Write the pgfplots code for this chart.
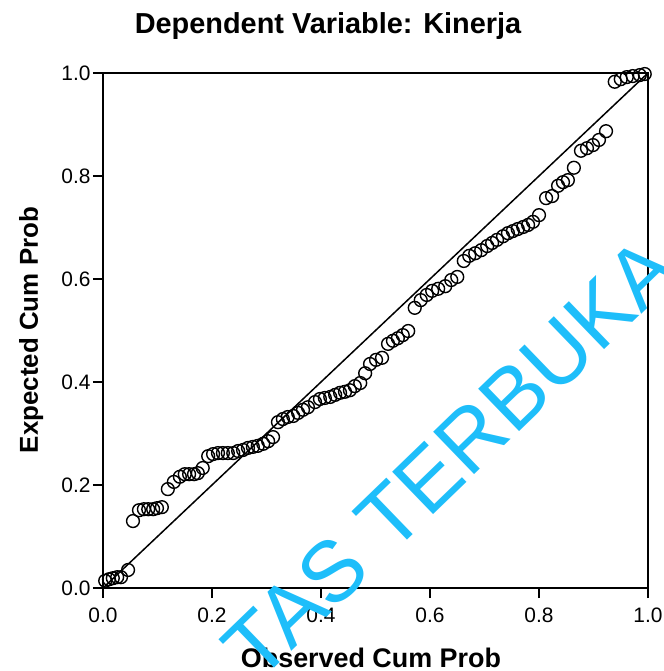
\documentclass[border=0pt]{standalone}
\usepackage{fontspec}
\setmainfont{Liberation Sans}
\usepackage{pgfplots}
\pgfplotsset{compat=1.18}
\definecolor{wm}{RGB}{30,190,250}
\pgfplotstableread{
x y
0.004 0.014
0.011 0.017
0.018 0.019
0.026 0.021
0.033 0.021
0.046 0.035
0.055 0.130
0.066 0.151
0.075 0.153
0.083 0.153
0.092 0.153
0.099 0.155
0.108 0.157
0.119 0.192
0.130 0.206
0.141 0.216
0.150 0.221
0.158 0.221
0.167 0.221
0.174 0.223
0.183 0.233
0.193 0.256
0.202 0.260
0.211 0.262
0.220 0.262
0.229 0.262
0.239 0.262
0.248 0.266
0.257 0.268
0.266 0.272
0.275 0.274
0.284 0.276
0.294 0.280
0.303 0.285
0.312 0.293
0.321 0.322
0.330 0.328
0.339 0.332
0.349 0.334
0.358 0.340
0.367 0.346
0.376 0.351
0.389 0.361
0.398 0.367
0.407 0.369
0.417 0.371
0.426 0.375
0.435 0.379
0.444 0.381
0.453 0.384
0.462 0.392
0.472 0.398
0.481 0.417
0.490 0.435
0.501 0.443
0.512 0.447
0.523 0.474
0.532 0.480
0.541 0.485
0.550 0.491
0.560 0.499
0.572 0.544
0.583 0.559
0.594 0.569
0.604 0.577
0.615 0.581
0.628 0.586
0.639 0.598
0.650 0.604
0.662 0.635
0.672 0.645
0.683 0.650
0.694 0.656
0.705 0.664
0.714 0.670
0.723 0.676
0.734 0.683
0.743 0.689
0.752 0.693
0.761 0.697
0.771 0.701
0.780 0.705
0.789 0.711
0.800 0.724
0.813 0.757
0.824 0.761
0.835 0.781
0.844 0.788
0.853 0.792
0.864 0.816
0.877 0.849
0.888 0.854
0.899 0.860
0.910 0.870
0.923 0.887
0.939 0.983
0.950 0.988
0.961 0.992
0.972 0.994
0.985 0.996
0.994 0.998
}\pppoints
\begin{document}
\begin{tikzpicture}
\begin{axis}[
  scale only axis,
  width=545bp, height=515bp,
  xmin=0, xmax=1, ymin=0, ymax=1,
  xtick={0,0.2,0.4,0.6,0.8,1},
  ytick={0,0.2,0.4,0.6,0.8,1},
  xtick pos=bottom, ytick pos=left,
  tick align=outside,
  major tick length=10bp,
  axis line style={line width=1.5bp, black},
  every tick/.style={black, line width=1.3bp},
  tick label style={font=\fontsize{21}{21}\selectfont, black},
  xticklabel style={yshift=-6bp},
  yticklabel style={xshift=1bp},
  /pgf/number format/assume math mode=true,
  /pgf/number format/.cd, fixed, fixed zerofill, precision=1,
]
\addplot[only marks, mark=o, mark size=6.4bp, mark options={line width=1.4bp, black}] table[x=x, y=y] {\pppoints};
\addplot[line width=1.5bp, black] coordinates {(0,0) (1,1)};
\end{axis}
\node[anchor=base, font=\bfseries\fontsize{29}{29}\selectfont] at (225bp,554bp) {Dependent Variable: Kinerja};
\node[anchor=base, font=\bfseries\fontsize{27}{27}\selectfont] at (268bp,-79bp) {Observed Cum Prob};
\node[anchor=base, rotate=90, font=\bfseries\fontsize{26}{26}\selectfont] at (-65bp,258bp) {Expected Cum Prob};
\node[rotate=44, text=wm, font=\fontsize{86}{86}\selectfont] at (347bp,130bp) {TAS TERBUKA};
\pgfresetboundingbox
\useasboundingbox (-103bp,-83bp) rectangle (561bp,588bp);
\end{tikzpicture}
\end{document}
